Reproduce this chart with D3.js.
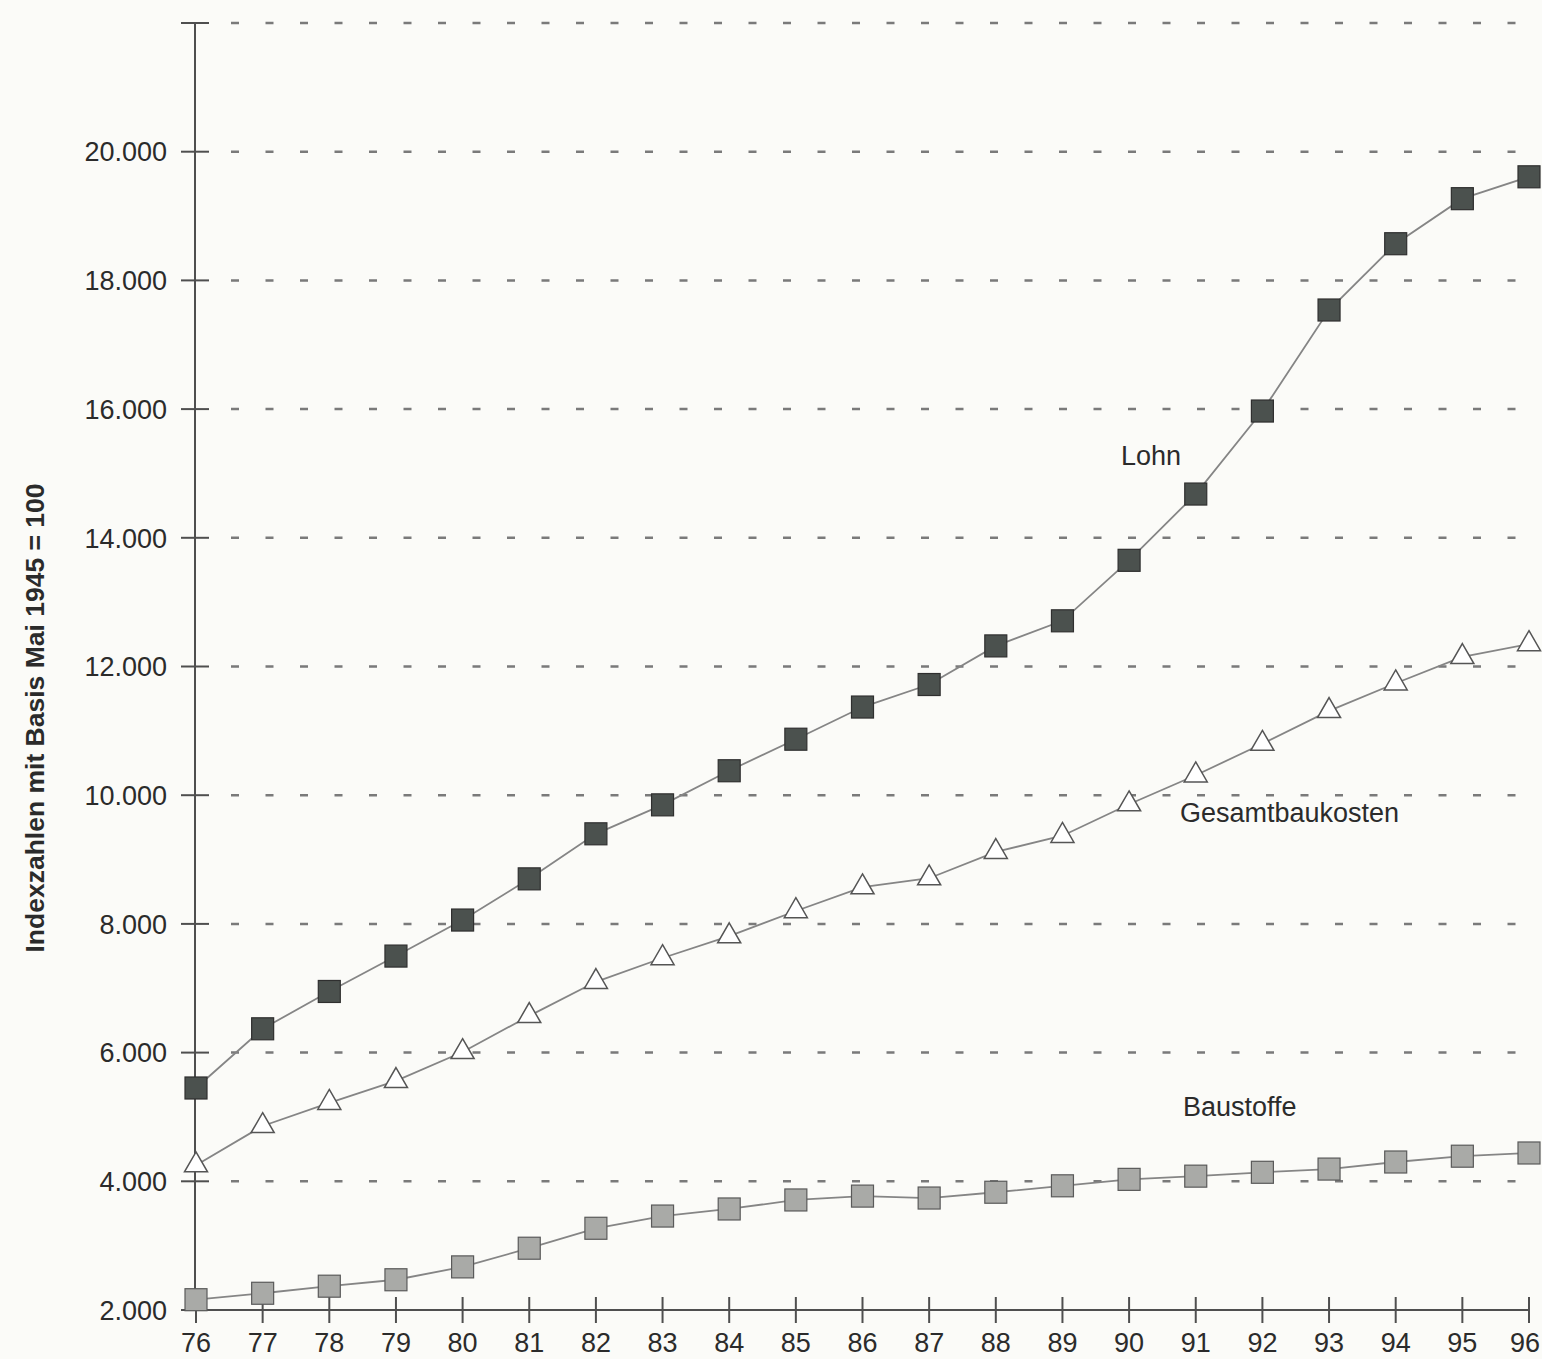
<!DOCTYPE html>
<html>
<head>
<meta charset="utf-8">
<script src="https://cdn.jsdelivr.net/npm/d3@7"></script>
<style>
  html, body { margin: 0; padding: 0; background: #fbfbf8; }
  svg { display: block; }
  text { font-family: "Liberation Sans", Arial, Helvetica, sans-serif; fill: #2b2b2b; }
  .tick-lbl { font-size: 27px; }
  .serie-lbl { font-size: 27px; }
  .ytitle { font-size: 26.5px; font-weight: bold; }
</style>
</head>
<body>
<div id="root"></div>
<script>
// Jahre (19xx) und Indexwerte
const years = [76, 77, 78, 79, 80, 81, 82, 83, 84, 85, 86, 87, 88, 89, 90, 91, 92, 93, 94, 95, 96];
const lohn = [5450, 6370, 6950, 7500, 8060, 8700, 9400, 9850, 10380, 10870, 11370, 11720, 12320, 12710, 13650, 14680, 15970, 17540, 18570, 19270, 19610];
const gesamt = [4250, 4860, 5220, 5560, 6010, 6570, 7100, 7470, 7810, 8200, 8570, 8710, 9120, 9370, 9860, 10310, 10800, 11310, 11740, 12150, 12350];
const baustoffe = [2160, 2260, 2370, 2470, 2670, 2960, 3270, 3460, 3570, 3710, 3770, 3740, 3830, 3930, 4030, 4080, 4140, 4190, 4300, 4390, 4440];
const yTicks = [2000, 4000, 6000, 8000, 10000, 12000, 14000, 16000, 18000, 20000, 22000];
const yLabelTicks = [2000, 4000, 6000, 8000, 10000, 12000, 14000, 16000, 18000, 20000];
const yTitle = 'Indexzahlen mit Basis Mai 1945 = 100';

const W = 1542, H = 1359;
const svg = d3.select('#root').append('svg').attr('width', W).attr('height', H);

const x = d3.scaleLinear().domain([76, 96]).range([196, 1529]);
const y = d3.scaleLinear().domain([2000, 22000]).range([1310, 23]);
const de = d3.formatLocale({ decimal: ',', thousands: '.', grouping: [3], currency: ['', ' €'] });
const fmt = de.format(',');

// gestrichelte Hilfslinien
svg.append('g').selectAll('line').data(yTicks.slice(1)).join('line')
  .attr('x1', 231).attr('x2', 1535)
  .attr('y1', d => y(d)).attr('y2', d => y(d))
  .attr('stroke', '#7a7a7a').attr('stroke-width', 2.5)
  .attr('stroke-dasharray', '8,26.5');

// Y-Achse
const axisCol = '#4f4f4f';
svg.append('line').attr('x1', 195).attr('x2', 195).attr('y1', y(22000)).attr('y2', y(2000))
  .attr('stroke', axisCol).attr('stroke-width', 2);
svg.append('g').selectAll('line').data(yTicks).join('line')
  .attr('x1', 181).attr('x2', 209)
  .attr('y1', d => y(d)).attr('y2', d => y(d))
  .attr('stroke', axisCol).attr('stroke-width', 2);
svg.append('g').selectAll('text').data(yLabelTicks).join('text')
  .attr('class', 'tick-lbl')
  .attr('x', 167).attr('y', d => y(d)).attr('dy', '0.36em')
  .attr('text-anchor', 'end')
  .text(d => fmt(d));

svg.append('text').attr('class', 'ytitle')
  .attr('transform', 'translate(44, 718) rotate(-90)')
  .attr('text-anchor', 'middle')
  .text(yTitle);

// X-Achse
svg.append('line').attr('x1', 181).attr('x2', x(96)).attr('y1', y(2000)).attr('y2', y(2000))
  .attr('stroke', axisCol).attr('stroke-width', 2);
svg.append('g').selectAll('line').data(years).join('line')
  .attr('x1', d => x(d)).attr('x2', d => x(d))
  .attr('y1', y(2000) - 13).attr('y2', y(2000) + 13)
  .attr('stroke', axisCol).attr('stroke-width', 2);
svg.append('g').selectAll('text').data(years).join('text')
  .attr('class', 'tick-lbl')
  .attr('x', d => Math.min(x(d), W - 17)).attr('y', 1352)
  .attr('text-anchor', 'middle')
  .text(d => d);

// Linien und Symbole
const line = d3.line().x((d, i) => x(years[i])).y(d => y(d));
function drawLine(vals) {
  svg.append('path').datum(vals).attr('d', line)
    .attr('fill', 'none').attr('stroke', '#858585').attr('stroke-width', 1.8);
}
function drawSquares(vals, fill, stroke) {
  svg.append('g').selectAll('rect').data(vals).join('rect')
    .attr('x', (d, i) => x(years[i]) - 11).attr('y', d => y(d) - 11)
    .attr('width', 22).attr('height', 22)
    .attr('fill', fill).attr('stroke', stroke).attr('stroke-width', 1.2);
}
function drawTriangles(vals) {
  const tri = d3.symbol().type(d3.symbolTriangle).size(230);
  svg.append('g').selectAll('path').data(vals).join('path')
    .attr('d', tri)
    .attr('transform', (d, i) => `translate(${x(years[i])},${y(d)})`)
    .attr('fill', '#ffffff').attr('stroke', '#555').attr('stroke-width', 1.5);
}

drawLine(baustoffe);
drawLine(gesamt);
drawLine(lohn);
drawSquares(baustoffe, '#a9aaa7', '#5a5a5a');
drawTriangles(gesamt);
drawSquares(lohn, '#4b514e', '#2f2f2f');

// Beschriftungen
svg.append('text').attr('class', 'serie-lbl').attr('x', 1121).attr('y', 465).text('Lohn');
svg.append('text').attr('class', 'serie-lbl').attr('x', 1180).attr('y', 822).text('Gesamtbaukosten');
svg.append('text').attr('class', 'serie-lbl').attr('x', 1183).attr('y', 1116).text('Baustoffe');
</script>
</body>
</html>
